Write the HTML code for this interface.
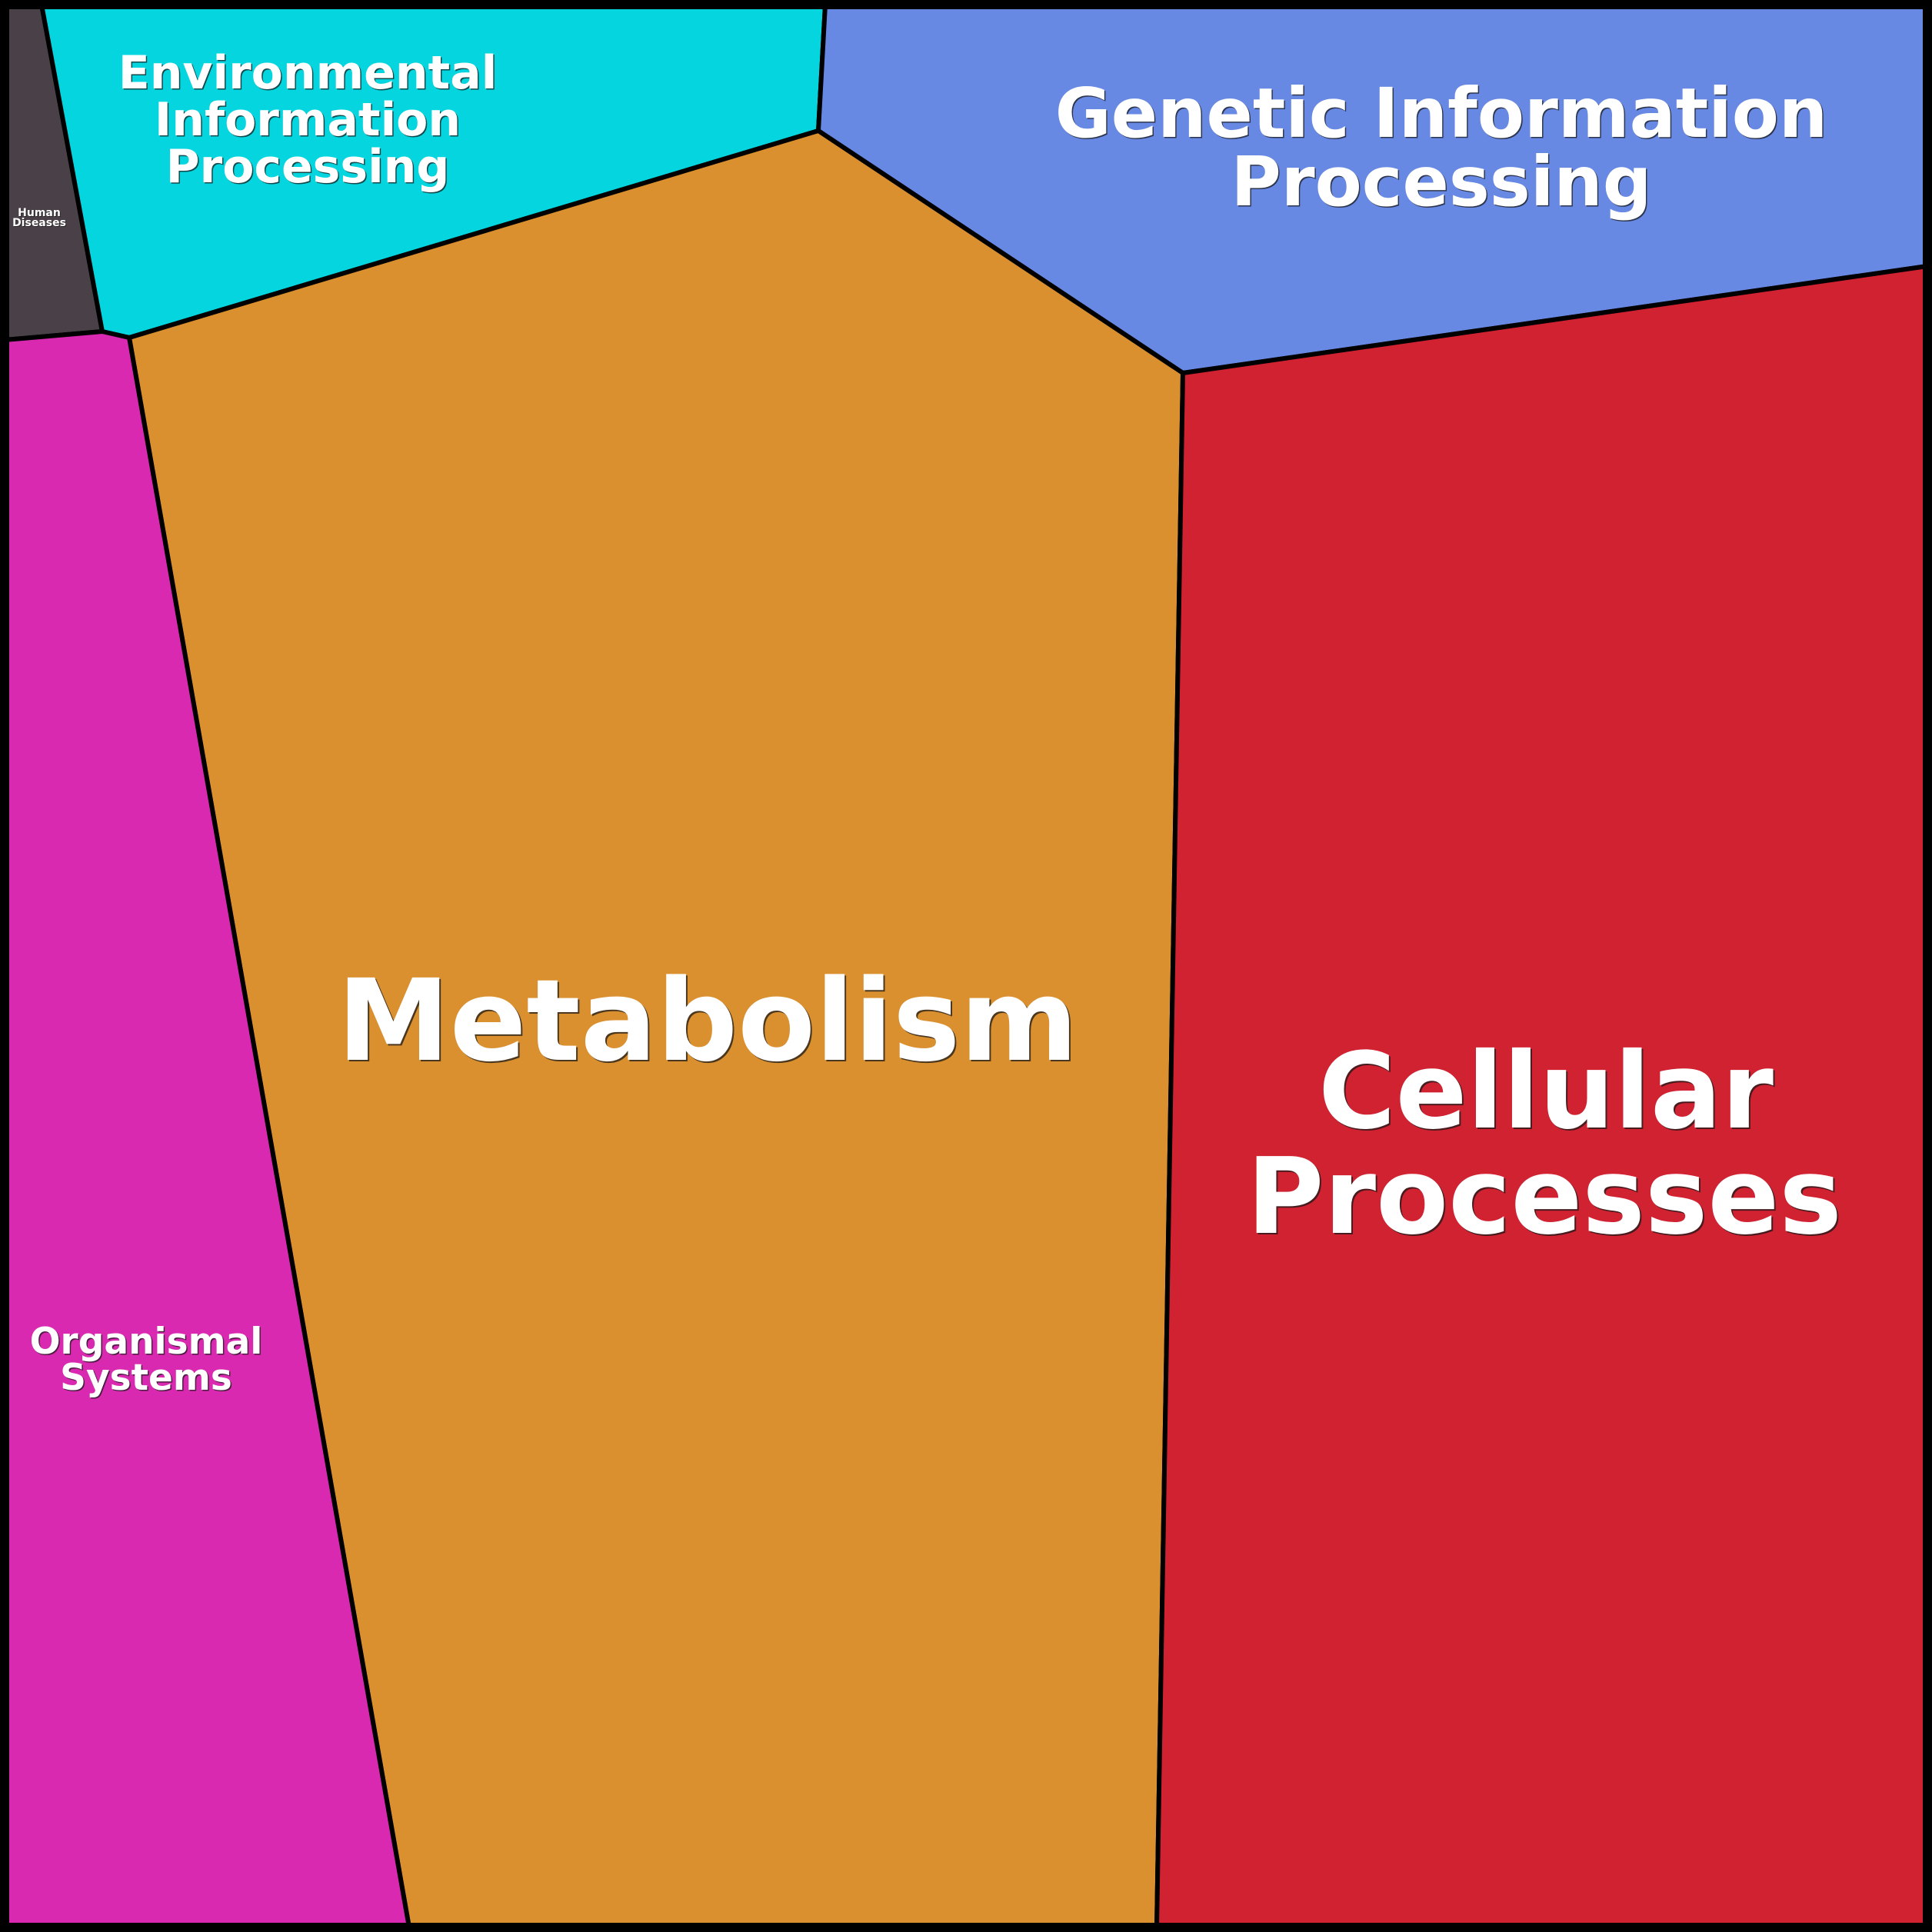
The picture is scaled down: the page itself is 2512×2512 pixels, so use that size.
<!DOCTYPE html>
<html>
<head>
<meta charset="utf-8">
<style>
  html, body { margin: 0; padding: 0; background: #000; }
  body { width: 2512px; height: 2512px; overflow: hidden; }
  svg { display: block; }
  text { font-family: "DejaVu Sans", "Liberation Sans", sans-serif; font-weight: bold; text-anchor: middle; }
  .sh { fill: #1a1a1a; fill-opacity: 0.75; }
  .fg { fill: #fff; }
</style>
</head>
<body>
<svg width="2512" height="2512" viewBox="0 0 2512 2512" xmlns="http://www.w3.org/2000/svg">
  <g stroke="#000" stroke-width="6" stroke-linejoin="miter">
    <polygon fill="#4a4148" points="6,6 54,6 133,431 6,442"/>
    <polygon fill="#05d5df" points="54,6 1073,6 1064,170 168,439 133,431"/>
    <polygon fill="#6789e4" points="1073,6 2506,6 2506,346 1538,485 1064,170"/>
    <polygon fill="#db9030" points="168,439 1064,170 1538,485 1504,2506 532,2506"/>
    <polygon fill="#d12232" points="1538,485 2506,346 2506,2506 1504,2506"/>
    <polygon fill="#d929b0" points="6,442 133,431 168,439 532,2506 6,2506"/>
  </g>
  <rect x="6" y="6" width="2500" height="2500" fill="none" stroke="#000" stroke-width="12"/>

  <!-- Human Diseases -->
  <g font-size="14">
    <text class="sh" x="52" y="282">Human</text>
    <text class="fg" x="51" y="281">Human</text>
    <text class="sh" x="52" y="295">Diseases</text>
    <text class="fg" x="51" y="294">Diseases</text>
  </g>

  <!-- Environmental Information Processing -->
  <g font-size="60">
    <text class="sh" x="401.5" y="116.5">Environmental</text>
    <text class="fg" x="400" y="115">Environmental</text>
    <text class="sh" x="401.5" y="177.5">Information</text>
    <text class="fg" x="400" y="176">Information</text>
    <text class="sh" x="401.5" y="238.5">Processing</text>
    <text class="fg" x="400" y="237">Processing</text>
  </g>

  <!-- Genetic Information Processing -->
  <g font-size="89">
    <text class="sh" x="1875.5" y="179.5">Genetic Information</text>
    <text class="fg" x="1874" y="178">Genetic Information</text>
    <text class="sh" x="1875.5" y="268.5">Processing</text>
    <text class="fg" x="1874" y="267">Processing</text>
  </g>

  <!-- Metabolism -->
  <g font-size="147">
    <text class="sh" x="922" y="1380">Metabolism</text>
    <text class="fg" x="920" y="1378">Metabolism</text>
  </g>

  <!-- Cellular Processes -->
  <g font-size="137">
    <text class="sh" x="2012" y="1468">Cellular</text>
    <text class="fg" x="2010" y="1466">Cellular</text>
    <text class="sh" x="2010" y="1605">Processes</text>
    <text class="fg" x="2008" y="1603">Processes</text>
  </g>

  <!-- Organismal Systems -->
  <g font-size="47">
    <text class="sh" x="191.5" y="1761.5">Organismal</text>
    <text class="fg" x="190" y="1760">Organismal</text>
    <text class="sh" x="191.5" y="1808.5">Systems</text>
    <text class="fg" x="190" y="1807">Systems</text>
  </g>
</svg>
</body>
</html>
